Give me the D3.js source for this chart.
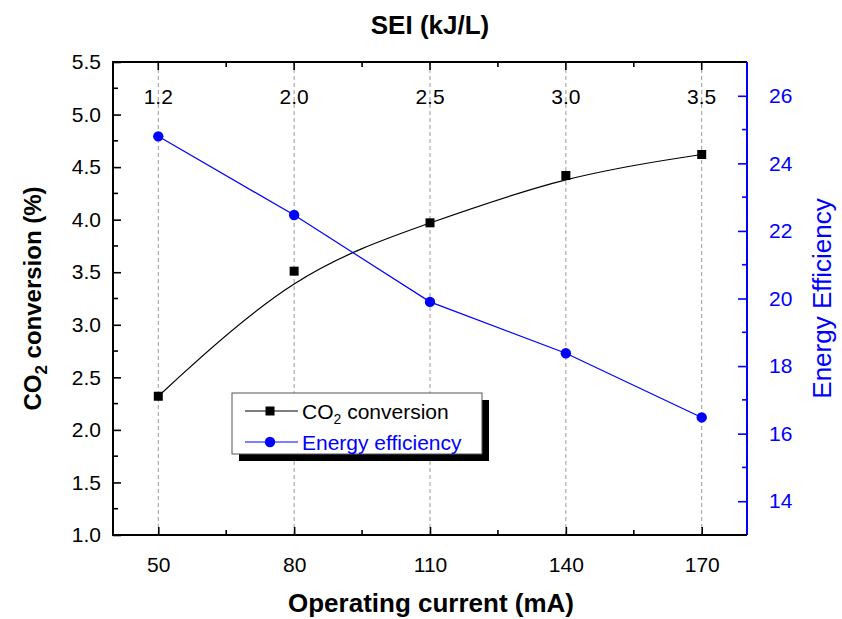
<!DOCTYPE html>
<html>
<head>
<meta charset="utf-8">
<script src="https://cdn.jsdelivr.net/npm/d3@7"></script>
<style>
  body { margin: 0; background: #fff; }
  text { font-family: "Liberation Sans", Arial, sans-serif; }
</style>
</head>
<body>
<div id="chart"></div>
<script>
// data
const current = [50, 80, 110, 140, 170]
const co2Conversion = [2.32, 3.51, 3.97, 4.42, 4.62]
const energyEfficiency = [24.8, 22.47, 19.9, 18.38, 16.48]
const seiLabels = ["1.2", "2.0", "2.5", "3.0", "3.5"]
const leftTicks = [1.0, 1.5, 2.0, 2.5, 3.0, 3.5, 4.0, 4.5, 5.0, 5.5]
const rightTicks = [14, 16, 18, 20, 22, 24, 26]

const width = 842
const height = 619
const margin = {top: 62, right: 95, bottom: 84, left: 113}
const blue = "#0000ff"

const svg = d3.select("#chart").append("svg")
    .attr("width", width)
    .attr("height", height)

const x = d3.scaleLinear().domain([40, 180]).range([margin.left, width - margin.right])
const yL = d3.scaleLinear().domain([1.0, 5.5]).range([height - margin.bottom, margin.top])
const yR = d3.scaleLinear().domain([13, 27]).range([height - margin.bottom, margin.top])

const pTop = margin.top, pBottom = height - margin.bottom
const pLeft = margin.left, pRight = width - margin.right

// gestippelde verticale lijnen
svg.append("g")
  .selectAll("line")
  .data(current)
  .enter().append("line")
    .attr("x1", d => x(d)).attr("x2", d => x(d))
    .attr("y1", pTop).attr("y2", pBottom)
    .attr("stroke", "#999")
    .attr("stroke-width", 1)
    .attr("stroke-dasharray", "4,3")

// onderste as
const minorX = d3.range(50, 171, 15).filter(v => current.indexOf(v) < 0)
const xAxis = svg.append("g")
    .attr("transform", "translate(0," + pBottom + ")")
    .call(d3.axisBottom(x).tickValues(current).tickSize(-8).tickPadding(22).tickFormat(d3.format("d")))
xAxis.selectAll("text").attr("font-size", 21).attr("fill", "#000")
xAxis.selectAll("line").attr("stroke-width", 1.6)
xAxis.select(".domain").remove()
xAxis.selectAll(".minor").data(minorX).enter().append("line")
    .attr("x1", d => x(d)).attr("x2", d => x(d))
    .attr("y1", 0).attr("y2", -5)
    .attr("stroke", "#000").attr("stroke-width", 1.6)

// bovenste as (SEI)
const topAxis = svg.append("g")
topAxis.selectAll(".maj").data(current).enter().append("line")
    .attr("x1", d => x(d)).attr("x2", d => x(d))
    .attr("y1", pTop).attr("y2", pTop + 8)
    .attr("stroke", "#000").attr("stroke-width", 1.6)
topAxis.selectAll(".min").data(minorX).enter().append("line")
    .attr("x1", d => x(d)).attr("x2", d => x(d))
    .attr("y1", pTop).attr("y2", pTop + 5)
    .attr("stroke", "#000").attr("stroke-width", 1.6)
topAxis.selectAll("text").data(current).enter().append("text")
    .attr("x", d => x(d))
    .attr("y", pTop + 42)
    .attr("text-anchor", "middle")
    .attr("font-size", 21)
    .text((d, i) => seiLabels[i])

// linker as
const minorL = d3.range(1.25, 5.5, 0.5)
const yAxisL = svg.append("g")
    .attr("transform", "translate(" + pLeft + ",0)")
    .call(d3.axisLeft(yL).tickValues(leftTicks).tickSize(-8).tickPadding(12).tickFormat(d3.format(".1f")))
yAxisL.selectAll("text").attr("font-size", 21).attr("fill", "#000")
yAxisL.selectAll("line").attr("stroke-width", 1.6)
yAxisL.select(".domain").remove()
yAxisL.selectAll(".minor").data(minorL).enter().append("line")
    .attr("x1", 0).attr("x2", 5)
    .attr("y1", d => yL(d)).attr("y2", d => yL(d))
    .attr("stroke", "#000").attr("stroke-width", 1.6)

// rechter as
const minorR = d3.range(15, 27, 2)
const yAxisR = svg.append("g")
    .attr("transform", "translate(" + pRight + ",0)")
    .call(d3.axisRight(yR).tickValues(rightTicks).tickSize(-9).tickPadding(22))
yAxisR.selectAll("text").attr("font-size", 21).attr("fill", blue)
yAxisR.selectAll("line").attr("stroke", blue).attr("stroke-width", 1.6)
yAxisR.select(".domain").remove()
yAxisR.selectAll(".minor").data(minorR).enter().append("line")
    .attr("x1", 0).attr("x2", -5)
    .attr("y1", d => yR(d)).attr("y2", d => yR(d))
    .attr("stroke", blue).attr("stroke-width", 1.6)

// kader
svg.append("path")
    .attr("d", "M" + pRight + "," + pTop + "H" + pLeft + "V" + pBottom + "H" + pRight)
    .attr("fill", "none").attr("stroke", "#000").attr("stroke-width", 2)
svg.append("line")
    .attr("x1", pRight).attr("x2", pRight).attr("y1", pTop).attr("y2", pBottom)
    .attr("stroke", blue).attr("stroke-width", 2)

// lijnen
const co2Points = current.map((c, i) => [c, co2Conversion[i]])
const eePoints = current.map((c, i) => [c, energyEfficiency[i]])

svg.append("path")
    .datum(co2Points)
    .attr("fill", "none").attr("stroke", "#000").attr("stroke-width", 1.2)
    .attr("d", d3.line().x(d => x(d[0])).y(d => yL(d[1])).curve(d3.curveBasis))

svg.append("path")
    .datum(eePoints)
    .attr("fill", "none").attr("stroke", blue).attr("stroke-width", 1.2)
    .attr("d", d3.line().x(d => x(d[0])).y(d => yR(d[1])))

svg.append("g").selectAll("rect")
    .data(co2Points).enter().append("rect")
    .attr("x", d => x(d[0]) - 4.5).attr("y", d => yL(d[1]) - 4.5)
    .attr("width", 9).attr("height", 9)
    .attr("fill", "#000")

svg.append("g").selectAll("circle")
    .data(eePoints).enter().append("circle")
    .attr("cx", d => x(d[0])).attr("cy", d => yR(d[1]))
    .attr("r", 5.2)
    .attr("fill", blue)

// legenda
const lg = svg.append("g").attr("transform", "translate(232,393)")
lg.append("rect").attr("x", 7).attr("y", 7).attr("width", 250).attr("height", 61).attr("fill", "#000")
lg.append("rect").attr("x", 0).attr("y", 0).attr("width", 250).attr("height", 61)
    .attr("fill", "#fff").attr("stroke", "#555").attr("stroke-width", 1)

lg.append("line").attr("x1", 13).attr("x2", 66).attr("y1", 18).attr("y2", 18).attr("stroke", "#000").attr("stroke-width", 1.2)
lg.append("rect").attr("x", 33.5).attr("y", 13.5).attr("width", 9).attr("height", 9).attr("fill", "#000")
const t1 = lg.append("text").attr("x", 70).attr("y", 25.5).attr("font-size", 21)
t1.append("tspan").text("CO")
t1.append("tspan").attr("font-size", 14).attr("dy", 5).text("2")
t1.append("tspan").attr("dy", -5).text(" conversion")

lg.append("line").attr("x1", 13).attr("x2", 66).attr("y1", 49).attr("y2", 49).attr("stroke", blue).attr("stroke-width", 1.2)
lg.append("circle").attr("cx", 38).attr("cy", 49).attr("r", 5.2).attr("fill", blue)
lg.append("text").attr("x", 70).attr("y", 56.5).attr("font-size", 21).attr("fill", blue).text("Energy efficiency")

// titels
svg.append("text")
    .attr("x", 430).attr("y", 34)
    .attr("text-anchor", "middle")
    .attr("font-size", 26).attr("font-weight", "bold")
    .text("SEI (kJ/L)")

svg.append("text")
    .attr("x", 431).attr("y", 612)
    .attr("text-anchor", "middle")
    .attr("font-size", 26).attr("font-weight", "bold")
    .text("Operating current (mA)")

const yt = svg.append("text")
    .attr("transform", "translate(41," + ((pTop + pBottom) / 2) + ") rotate(-90)")
    .attr("text-anchor", "middle")
    .attr("font-size", 24).attr("font-weight", "bold")
yt.append("tspan").text("CO")
yt.append("tspan").attr("font-size", 17).attr("dy", 6).text("2")
yt.append("tspan").attr("dy", -6).text(" conversion (%)")

svg.append("text")
    .attr("transform", "translate(831," + ((pTop + pBottom) / 2) + ") rotate(-90)")
    .attr("text-anchor", "middle")
    .attr("font-size", 26)
    .attr("fill", blue)
    .text("Energy Efficiency")
</script>
</body>
</html>
